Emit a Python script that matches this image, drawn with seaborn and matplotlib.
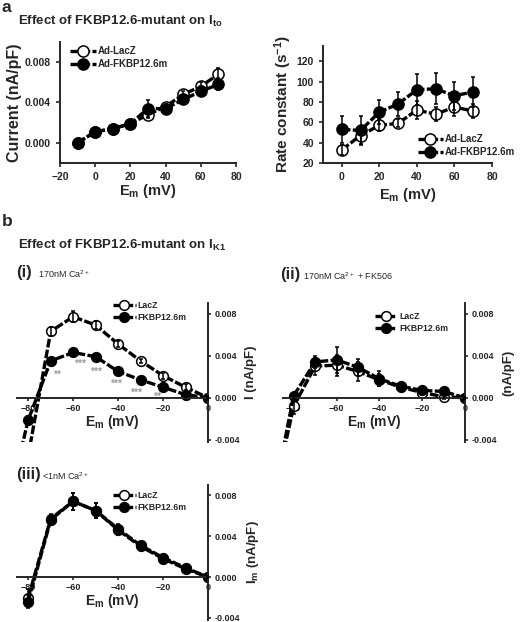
import matplotlib
matplotlib.use("Agg")
import matplotlib.pyplot as plt
import pandas as pd
import seaborn as sns

# ---- panel a : I_to current density ----
ito_em = [-10, 0, 10, 20, 30, 40, 50, 60, 70]
ito_lacz = [0.0000, 0.0011, 0.0014, 0.0019, 0.0028, 0.0036, 0.0048, 0.0056, 0.0068]
ito_lacz_err = [0.0001, 0.0001, 0.0002, 0.0002, 0.0003, 0.0003, 0.0003, 0.0004, 0.0006]
ito_fkbp = [0.0000, 0.0011, 0.0014, 0.0019, 0.0034, 0.0034, 0.0043, 0.0051, 0.0058]
ito_fkbp_err = [0.0001, 0.0001, 0.0002, 0.0002, 0.0008, 0.0003, 0.0003, 0.0005, 0.0006]

# ---- panel a : rate constant ----
rate_em = [0, 10, 20, 30, 40, 50, 60, 70]
rate_lacz = [33, 47, 57, 59, 72, 68, 75, 71]
rate_lacz_err = [5, 8, 6, 4, 9, 7, 9, 7]
rate_fkbp = [53, 52, 70, 78, 92, 93, 86, 90]
rate_fkbp_err = [13, 14, 12, 12, 15, 15, 14, 15]

# ---- panel b(i) : 170nM Ca ----
k1_em_i_lacz = [-80, -70, -60, -50, -40, -30, -20, -10, 0]
k1_i_lacz = [-0.0055, 0.0063, 0.0077, 0.0069, 0.0051, 0.0035, 0.0021, 0.0010, 0.0]
k1_i_lacz_err = [0.0006, 0.0004, 0.0005, 0.0004, 0.0003, 0.0002, 0.0003, 0.0003, 0.0002]
k1_em_i_fkbp = [-90, -80, -70, -60, -50, -40, -30, -20, -10, 0]
k1_i_fkbp = [-0.0110, -0.0021, 0.0035, 0.0043, 0.0039, 0.0025, 0.0017, 0.0010, 0.0003, 0.0]
k1_i_fkbp_err = [0.0004, 0.0004, 0.0002, 0.0002, 0.0002, 0.0002, 0.0002, 0.0002, 0.0002, 0.0001]
stars_em = [-67, -57, -50, -41, -32, -22.5]
stars_y = [0.0022, 0.0032, 0.0025, 0.0013, 0.0005, 0.0001]
stars_txt = ["**", "***", "***", "***", "***", "**"]

# ---- panel b(ii) : 170nM Ca + FK506 ----
k1_em_ii = [-90, -80, -70, -60, -50, -40, -30, -20, -10, 0]
k1_ii_lacz = [-0.0100, -0.0008, 0.0030, 0.0031, 0.0025, 0.0017, 0.0010, 0.0005, 0.0001, 0.0]
k1_ii_lacz_err = [0.0005, 0.0007, 0.0008, 0.0010, 0.0009, 0.0006, 0.0003, 0.0002, 0.0002, 0.0001]
k1_ii_fkbp = [-0.0100, 0.0002, 0.0034, 0.0036, 0.0029, 0.0018, 0.0011, 0.0007, 0.0006, 0.0]
k1_ii_fkbp_err = [0.0005, 0.0003, 0.0006, 0.0012, 0.0008, 0.0007, 0.0003, 0.0003, 0.0002, 0.0001]

# ---- panel b(iii) : <1nM Ca ----
k1_em_iii = [-80, -70, -60, -50, -40, -30, -20, -10, 0]
k1_iii_lacz = [-0.0020, 0.0057, 0.0074, 0.0065, 0.0046, 0.0030, 0.0018, 0.0008, 0.0]
k1_iii_lacz_err = [0.0008, 0.0005, 0.0008, 0.0007, 0.0005, 0.0003, 0.0002, 0.0002, 0.0001]
k1_iii_fkbp = [-0.0024, 0.0056, 0.0074, 0.0065, 0.0047, 0.0031, 0.0019, 0.0009, 0.0]
k1_iii_fkbp_err = [0.0006, 0.0005, 0.0008, 0.0007, 0.0005, 0.0003, 0.0002, 0.0002, 0.0001]

sns.set_style("ticks")
plt.rcParams['font.family'] = ['Liberation Sans', 'DejaVu Sans']
plt.rcParams['font.weight'] = 'bold'
plt.rcParams['axes.labelweight'] = 'bold'
plt.rcParams['mathtext.default'] = 'regular'

W, H = 520, 622
fig = plt.figure(figsize=(W / 100, H / 100), dpi=100)


def box(x0, y0, x1, y1):
    return [x0 / W, 1 - y1 / H, (x1 - x0) / W, (y1 - y0) / H]


def series(ax, x, y, err, filled, label, ms=7, lw=2.4):
    df = pd.DataFrame({"Em": x, "I": y})
    sns.lineplot(data=df, x="Em", y="I", ax=ax, color="black", lw=lw,
                 linestyle=(0, (2.6, 0.7)), marker="o", markersize=ms,
                 markerfacecolor="black" if filled else "white",
                 markeredgecolor="black", markeredgewidth=1.1,
                 errorbar=None, label=label)
    ax.errorbar(x, y, yerr=err, fmt="none", ecolor="black", elinewidth=1.1,
                capsize=1.5, capthick=1.1, zorder=3)


# ---------- a left ----------
ax = fig.add_axes(box(60, 42, 236, 163))
series(ax, ito_em, ito_lacz, ito_lacz_err, False, "Ad-LacZ", ms=8)
series(ax, ito_em, ito_fkbp, ito_fkbp_err, True, "Ad-FKBP12.6m", ms=8)
ax.set_xlim(-20, 80)
ax.set_ylim(-0.002, 0.010)
ax.set_xticks([-20, 0, 20, 40, 60, 80])
ax.set_yticks([0.0, 0.004, 0.008])
ax.set_yticklabels(["0.000", "0.004", "0.008"])
ax.tick_params(labelsize=7.5, length=3, width=1.2)
ax.set_xlabel("E$_m$ (mV)", fontsize=10.5, labelpad=0)
ax.set_ylabel("Current (nA/pF)", fontsize=11.5, labelpad=2)
ax.legend(loc="upper left", bbox_to_anchor=(0.02, 1.02), frameon=False,
          fontsize=7, handlelength=2.6, labelspacing=0.3, handletextpad=0.2,
          borderpad=0.2)
sns.despine(ax=ax)
for s in ax.spines.values():
    s.set_linewidth(1.4)

# ---------- a right ----------
ax = fig.add_axes(box(323, 46, 492, 163))
series(ax, rate_em, rate_lacz, rate_lacz_err, False, "Ad-LacZ", ms=8)
series(ax, rate_em, rate_fkbp, rate_fkbp_err, True, "Ad-FKBP12.6m", ms=8)
ax.set_xlim(-10, 80)
ax.set_ylim(20, 135)
ax.set_xticks([0, 20, 40, 60, 80])
ax.set_yticks([20, 40, 60, 80, 100, 120])
ax.tick_params(labelsize=7.5, length=3, width=1.2)
ax.set_xlabel("E$_m$ (mV)", fontsize=10.5, labelpad=3)
ax.set_ylabel("Rate constant (s$^{-1}$)", fontsize=11, labelpad=2)
ax.legend(loc="lower left", bbox_to_anchor=(0.52, -0.01), frameon=False,
          fontsize=7, handlelength=2.6, labelspacing=0.3, handletextpad=0.2,
          borderpad=0.2)
sns.despine(ax=ax)
for s in ax.spines.values():
    s.set_linewidth(1.4)


# ---------- b panels ----------
def ik1_axes(ax, ylabel, leg_anchor):
    ax.set_xlim(-85, 0)
    ax.set_ylim(-0.0042, 0.009)
    ax.spines['left'].set_visible(False)
    ax.spines['top'].set_visible(False)
    ax.spines['bottom'].set_position(('data', 0))
    for s in ax.spines.values():
        s.set_linewidth(1.4)
    ax.yaxis.tick_right()
    ax.yaxis.set_label_position('right')
    ax.set_xticks([-80, -60, -40, -20, 0])
    ax.set_yticks([-0.004, 0.0, 0.004, 0.008])
    ax.set_yticklabels(["-0.004", "0.000", "0.004", "0.008"])
    ax.tick_params(labelsize=6.5, length=2.5, width=1.2, pad=2)
    ax.set_xlabel("E$_m$ (mV)", fontsize=10, labelpad=0)
    ax.set_ylabel(ylabel, fontsize=9.5, labelpad=4)
    ax.legend(loc="upper left", bbox_to_anchor=leg_anchor, frameon=False,
              fontsize=6.3, handlelength=2.6, labelspacing=0.35,
              handletextpad=0.2, borderpad=0.2)


ax = fig.add_axes(box(17, 303, 208, 442))
series(ax, k1_em_i_lacz, k1_i_lacz, k1_i_lacz_err, False, "LacZ")
series(ax, k1_em_i_fkbp, k1_i_fkbp, k1_i_fkbp_err, True, "FKBP12.6m")
for xs, ys, t in zip(stars_em, stars_y, stars_txt):
    ax.text(xs, ys, t, color="#999999", fontsize=7.5, ha="center", va="center")
ik1_axes(ax, "I (nA/pF)", (0.47, 1.06))

ax = fig.add_axes(box(283, 303, 465, 442))
series(ax, k1_em_ii, k1_ii_lacz, k1_ii_lacz_err, False, "LacZ")
series(ax, k1_em_ii, k1_ii_fkbp, k1_ii_fkbp_err, True, "FKBP12.6m")
ik1_axes(ax, "(nA/pF)", (0.47, 0.98))

ax = fig.add_axes(box(17, 485, 208, 620))
series(ax, k1_em_iii, k1_iii_lacz, k1_iii_lacz_err, False, "LacZ")
series(ax, k1_em_iii, k1_iii_fkbp, k1_iii_fkbp_err, True, "FKBP12.6m")
ik1_axes(ax, "I$_m$ (nA/pF)", (0.47, 1.0))


# ---------- titles ----------
def ftext(x, y, s, **kw):
    fig.text(x / W, 1 - y / H, s, va="center", ha="left", **kw)


ftext(2, 7, "a", fontsize=12.5)
ftext(18, 21, "Effect of FKBP12.6-mutant on I$_{to}$", fontsize=9.5)
ftext(2, 222, "b", fontsize=12.5)
ftext(18, 245, "Effect of FKBP12.6-mutant on I$_{K1}$", fontsize=9.5)
ftext(16, 273, "(i)", fontsize=12)
ftext(38, 274, "170nM Ca$^{2+}$", fontsize=6.5, fontweight="normal")
ftext(280, 275, "(ii)", fontsize=12)
ftext(303, 276, "170nM Ca$^{2+}$ + FK506", fontsize=6.5, fontweight="normal")
ftext(16, 475, "(iii)", fontsize=12)
ftext(42, 476, "<1nM Ca$^{2+}$", fontsize=6.5, fontweight="normal")

fig.savefig("out.png", dpi=100)
